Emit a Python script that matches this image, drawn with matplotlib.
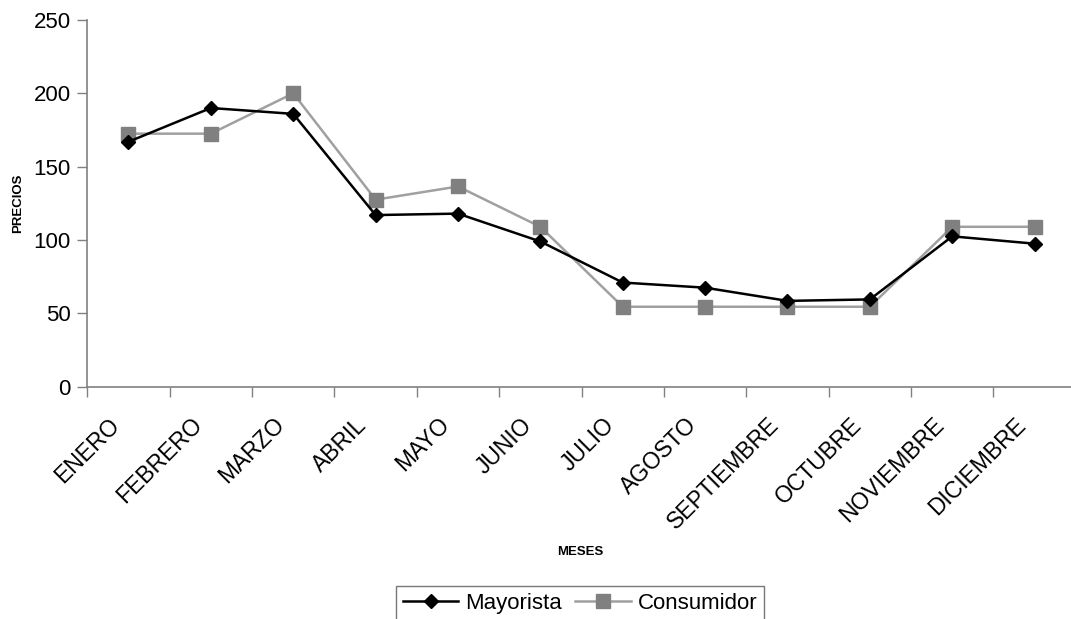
import matplotlib
matplotlib.use("Agg")
import matplotlib.pyplot as plt
import matplotlib.transforms as mtransforms
import numpy as np

plt.rcParams['font.family'] = ['Liberation Sans', 'DejaVu Sans']

meses = ["ENERO", "FEBRERO", "MARZO", "ABRIL", "MAYO", "JUNIO", "JULIO",
         "AGOSTO", "SEPTIEMBRE", "OCTUBRE", "NOVIEMBRE", "DICIEMBRE"]
mayorista = [167, 190, 186, 117, 118, 99, 71, 67.5, 58.5, 59.5, 102.5, 97.5]
consumidor = [172.5, 172.5, 200, 127.5, 136.5, 109, 54.5, 54.5, 54.5, 54.5, 109, 109]

fig = plt.figure(figsize=(10.71, 6.19), dpi=100)
ax = fig.add_axes([0.0815, 0.3753, 0.923, 0.5924])

x = np.arange(len(meses))
ax.plot(x, mayorista, color='black', lw=1.8, marker='D', ms=7.5,
        mfc='black', mec='black', label='Mayorista', zorder=4)
ax.plot(x, consumidor, color='#a0a0a0', lw=1.8, marker='s', ms=10,
        mfc='#808080', mec='#808080', label='Consumidor', zorder=3)

ax.set_xlim(-0.5, len(meses) - 0.5)
ax.set_ylim(0, 250)
ax.set_yticks(np.arange(0, 251, 50))

# tick marks on category boundaries, labels at category centres
ax.set_xticks(np.arange(-0.5, len(meses), 1.0))
ax.set_xticklabels([])
ax.set_xticks(x, minor=True)
ax.set_xticklabels(meses, minor=True, rotation=45, ha='right', va='center',
                   rotation_mode='anchor', fontsize=16.5)
ax.tick_params(axis='x', which='minor', length=0, pad=25)
ax.tick_params(axis='x', which='major', length=7, width=1, color='#808080')
ax.tick_params(axis='y', length=7, width=1, color='#808080', labelsize=16, pad=5)
offset = mtransforms.ScaledTranslation(-0.12, 0, fig.dpi_scale_trans)
for lab in ax.get_xticklabels(minor=True):
    lab.set_transform(lab.get_transform() + offset)

for side in ('top', 'right'):
    ax.spines[side].set_visible(False)
for side in ('left', 'bottom'):
    ax.spines[side].set_color('#808080')
    ax.spines[side].set_linewidth(1.2)

fig.text(0.017, 0.672, 'PRECIOS', rotation=90, ha='center', va='center',
         fontsize=9.5, fontweight='bold')
fig.text(0.5415, 0.108, 'MESES', ha='center', va='center',
         fontsize=9.5, fontweight='bold')

leg = fig.legend(loc='upper center', bbox_to_anchor=(0.5415, 1 - 586 / 619),
                 ncol=2, fontsize=16, frameon=True, fancybox=False,
                 edgecolor='#555555', handlelength=2.5, handletextpad=0.3,
                 columnspacing=0.6, borderpad=0.3, borderaxespad=0)
leg.get_frame().set_linewidth(1.0)

fig.savefig('out.png', dpi=100)
